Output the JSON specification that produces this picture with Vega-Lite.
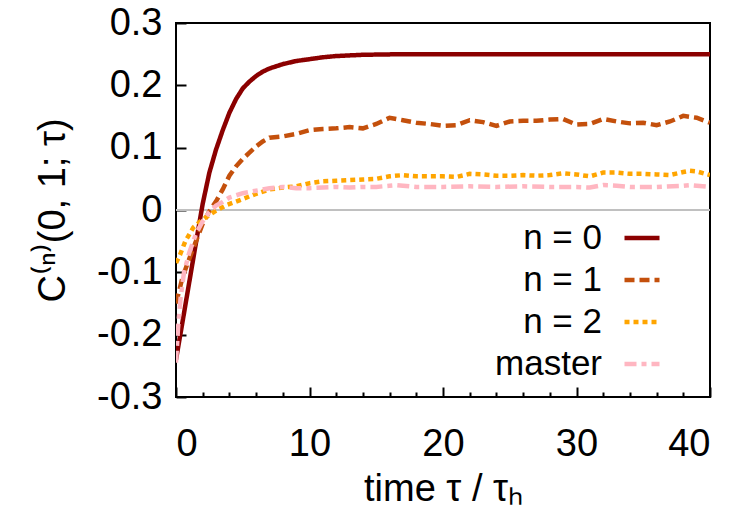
{
  "$schema": "https://vega.github.io/schema/vega-lite/v6.json",
  "width": 534,
  "height": 374,
  "autosize": {"type": "none"},
  "padding": {"left": 176, "top": 23, "right": 30, "bottom": 119},
  "config": {
    "view": {"stroke": "black", "strokeWidth": 2},
    "font": "Liberation Sans",
    "legend": {"labelFontSize": 35, "labelColor": "black"}
  },
  "data": {"values": [
    {"s": "n = 0", "t": 0, "v": -0.24}, {"s": "n = 0", "t": 0.5, "v": -0.178}, {"s": "n = 0", "t": 1, "v": -0.115}, {"s": "n = 0", "t": 1.5, "v": -0.052}, {"s": "n = 0", "t": 2, "v": 0.01}, {"s": "n = 0", "t": 2.5, "v": 0.06}, {"s": "n = 0", "t": 3, "v": 0.097}, {"s": "n = 0", "t": 3.5, "v": 0.128}, {"s": "n = 0", "t": 4, "v": 0.156}, {"s": "n = 0", "t": 4.5, "v": 0.178}, {"s": "n = 0", "t": 5, "v": 0.195}, {"s": "n = 0", "t": 5.5, "v": 0.206}, {"s": "n = 0", "t": 6, "v": 0.215}, {"s": "n = 0", "t": 6.5, "v": 0.222}, {"s": "n = 0", "t": 7, "v": 0.227}, {"s": "n = 0", "t": 8, "v": 0.234}, {"s": "n = 0", "t": 9, "v": 0.239}, {"s": "n = 0", "t": 10, "v": 0.242}, {"s": "n = 0", "t": 11, "v": 0.245}, {"s": "n = 0", "t": 12, "v": 0.247}, {"s": "n = 0", "t": 14, "v": 0.249}, {"s": "n = 0", "t": 17, "v": 0.25}, {"s": "n = 0", "t": 25, "v": 0.25}, {"s": "n = 0", "t": 32, "v": 0.25}, {"s": "n = 0", "t": 40, "v": 0.25},

    {"s": "n = 1", "t": 0, "v": -0.15}, {"s": "n = 1", "t": 0.5, "v": -0.107}, {"s": "n = 1", "t": 1, "v": -0.078}, {"s": "n = 1", "t": 1.5, "v": -0.05}, {"s": "n = 1", "t": 2, "v": -0.022}, {"s": "n = 1", "t": 2.5, "v": -0.002}, {"s": "n = 1", "t": 3, "v": 0.014}, {"s": "n = 1", "t": 3.5, "v": 0.033}, {"s": "n = 1", "t": 4, "v": 0.055}, {"s": "n = 1", "t": 4.5, "v": 0.07}, {"s": "n = 1", "t": 5, "v": 0.082}, {"s": "n = 1", "t": 5.5, "v": 0.092}, {"s": "n = 1", "t": 6, "v": 0.102}, {"s": "n = 1", "t": 6.5, "v": 0.11}, {"s": "n = 1", "t": 7, "v": 0.116}, {"s": "n = 1", "t": 8, "v": 0.118}, {"s": "n = 1", "t": 9, "v": 0.122}, {"s": "n = 1", "t": 10, "v": 0.128}, {"s": "n = 1", "t": 11, "v": 0.13}, {"s": "n = 1", "t": 12, "v": 0.131}, {"s": "n = 1", "t": 13, "v": 0.133}, {"s": "n = 1", "t": 14, "v": 0.131}, {"s": "n = 1", "t": 15, "v": 0.138}, {"s": "n = 1", "t": 16, "v": 0.148}, {"s": "n = 1", "t": 17, "v": 0.144}, {"s": "n = 1", "t": 18, "v": 0.14}, {"s": "n = 1", "t": 19, "v": 0.138}, {"s": "n = 1", "t": 20, "v": 0.135}, {"s": "n = 1", "t": 21, "v": 0.136}, {"s": "n = 1", "t": 22, "v": 0.144}, {"s": "n = 1", "t": 23, "v": 0.141}, {"s": "n = 1", "t": 24, "v": 0.135}, {"s": "n = 1", "t": 25, "v": 0.142}, {"s": "n = 1", "t": 26, "v": 0.143}, {"s": "n = 1", "t": 27, "v": 0.143}, {"s": "n = 1", "t": 28, "v": 0.145}, {"s": "n = 1", "t": 29, "v": 0.146}, {"s": "n = 1", "t": 30, "v": 0.137}, {"s": "n = 1", "t": 31, "v": 0.138}, {"s": "n = 1", "t": 32, "v": 0.146}, {"s": "n = 1", "t": 33, "v": 0.142}, {"s": "n = 1", "t": 34, "v": 0.139}, {"s": "n = 1", "t": 35, "v": 0.14}, {"s": "n = 1", "t": 36, "v": 0.136}, {"s": "n = 1", "t": 37, "v": 0.142}, {"s": "n = 1", "t": 38, "v": 0.151}, {"s": "n = 1", "t": 39, "v": 0.148}, {"s": "n = 1", "t": 40, "v": 0.14},

    {"s": "n = 2", "t": 0, "v": -0.085}, {"s": "n = 2", "t": 0.3, "v": -0.072}, {"s": "n = 2", "t": 0.7, "v": -0.05}, {"s": "n = 2", "t": 1.3, "v": -0.028}, {"s": "n = 2", "t": 2, "v": -0.015}, {"s": "n = 2", "t": 2.5, "v": -0.008}, {"s": "n = 2", "t": 3, "v": -0.001}, {"s": "n = 2", "t": 3.8, "v": 0.008}, {"s": "n = 2", "t": 4.8, "v": 0.016}, {"s": "n = 2", "t": 6, "v": 0.026}, {"s": "n = 2", "t": 7, "v": 0.033}, {"s": "n = 2", "t": 8, "v": 0.036}, {"s": "n = 2", "t": 9, "v": 0.038}, {"s": "n = 2", "t": 10, "v": 0.043}, {"s": "n = 2", "t": 11, "v": 0.046}, {"s": "n = 2", "t": 12, "v": 0.047}, {"s": "n = 2", "t": 13, "v": 0.048}, {"s": "n = 2", "t": 14, "v": 0.049}, {"s": "n = 2", "t": 15, "v": 0.05}, {"s": "n = 2", "t": 16, "v": 0.054}, {"s": "n = 2", "t": 17, "v": 0.056}, {"s": "n = 2", "t": 18, "v": 0.054}, {"s": "n = 2", "t": 19, "v": 0.054}, {"s": "n = 2", "t": 20, "v": 0.054}, {"s": "n = 2", "t": 21, "v": 0.053}, {"s": "n = 2", "t": 22, "v": 0.058}, {"s": "n = 2", "t": 23, "v": 0.057}, {"s": "n = 2", "t": 24, "v": 0.055}, {"s": "n = 2", "t": 25, "v": 0.055}, {"s": "n = 2", "t": 26, "v": 0.056}, {"s": "n = 2", "t": 27, "v": 0.055}, {"s": "n = 2", "t": 28, "v": 0.056}, {"s": "n = 2", "t": 29, "v": 0.059}, {"s": "n = 2", "t": 30, "v": 0.057}, {"s": "n = 2", "t": 31, "v": 0.054}, {"s": "n = 2", "t": 32, "v": 0.06}, {"s": "n = 2", "t": 33, "v": 0.06}, {"s": "n = 2", "t": 34, "v": 0.058}, {"s": "n = 2", "t": 35, "v": 0.058}, {"s": "n = 2", "t": 36, "v": 0.057}, {"s": "n = 2", "t": 37, "v": 0.056}, {"s": "n = 2", "t": 38, "v": 0.061}, {"s": "n = 2", "t": 38.5, "v": 0.063}, {"s": "n = 2", "t": 39, "v": 0.062}, {"s": "n = 2", "t": 40, "v": 0.056},

    {"s": "master", "t": 0, "v": -0.245}, {"s": "master", "t": 0.15, "v": -0.19}, {"s": "master", "t": 0.35, "v": -0.14}, {"s": "master", "t": 0.6, "v": -0.1}, {"s": "master", "t": 1, "v": -0.068}, {"s": "master", "t": 1.5, "v": -0.038}, {"s": "master", "t": 2, "v": -0.018}, {"s": "master", "t": 2.5, "v": -0.003}, {"s": "master", "t": 3, "v": 0.007}, {"s": "master", "t": 3.5, "v": 0.013}, {"s": "master", "t": 4, "v": 0.02}, {"s": "master", "t": 5, "v": 0.027}, {"s": "master", "t": 6, "v": 0.031}, {"s": "master", "t": 7, "v": 0.035}, {"s": "master", "t": 8, "v": 0.037}, {"s": "master", "t": 9, "v": 0.035}, {"s": "master", "t": 10, "v": 0.035}, {"s": "master", "t": 11, "v": 0.036}, {"s": "master", "t": 12, "v": 0.037}, {"s": "master", "t": 13, "v": 0.036}, {"s": "master", "t": 14, "v": 0.037}, {"s": "master", "t": 15, "v": 0.037}, {"s": "master", "t": 16, "v": 0.039}, {"s": "master", "t": 16.5, "v": 0.04}, {"s": "master", "t": 17, "v": 0.039}, {"s": "master", "t": 18, "v": 0.037}, {"s": "master", "t": 20, "v": 0.037}, {"s": "master", "t": 22, "v": 0.038}, {"s": "master", "t": 24, "v": 0.037}, {"s": "master", "t": 26, "v": 0.038}, {"s": "master", "t": 28, "v": 0.037}, {"s": "master", "t": 30, "v": 0.037}, {"s": "master", "t": 31, "v": 0.036}, {"s": "master", "t": 32, "v": 0.04}, {"s": "master", "t": 33, "v": 0.039}, {"s": "master", "t": 34, "v": 0.037}, {"s": "master", "t": 36, "v": 0.037}, {"s": "master", "t": 38, "v": 0.039}, {"s": "master", "t": 38.5, "v": 0.04}, {"s": "master", "t": 39, "v": 0.039}, {"s": "master", "t": 40, "v": 0.037}
  ]},
  "layer": [
    {
      "mark": {"type": "rule", "color": "#c0c0c0", "strokeWidth": 2},
      "encoding": {
        "y": {"datum": 0, "type": "quantitative", "scale": {"domain": [-0.3, 0.3], "nice": false},
              "axis": {"orient": "left", "values": [-0.3, -0.2, -0.1, 0, 0.1, 0.2, 0.3], "grid": false, "domain": false, "offset": -10, "tickSize": 10, "tickColor": "black", "tickWidth": 2,
                       "labelExpr": "datum.value == 0 ? '0' : (datum.value < 0 ? '-' + format(-datum.value, '.1f') : format(datum.value, '.1f'))", "labelFontSize": 38, "labelColor": "black", "labelPadding": 14,
                       "title": "C⁽ⁿ⁾(0, 1; τ)", "titleFontSize": 38, "titleFontWeight": "normal", "titleColor": "black", "titleX": -122, "titleY": 187, "titleAngle": -90, "titleBaseline": "alphabetic", "titleAlign": "center"}}
      }
    },
    {
      "mark": {"type": "line", "strokeWidth": 4.5, "clip": true},
      "encoding": {
        "x": {"field": "t", "type": "quantitative", "scale": {"domain": [0, 40], "nice": false},
              "axis": {"orient": "bottom", "values": [0, 2, 4, 6, 8, 10, 12, 14, 16, 18, 20, 22, 24, 26, 28, 30, 32, 34, 36, 38, 40], "grid": false, "domain": false, "offset": -10, "tickSize": 10, "tickColor": "black", "tickWidth": 2,
                       "tickDash": {"condition": {"test": "datum.value % 10 === 0", "value": [10, 0]}, "value": [0, 5, 10, 0]},
                       "labelExpr": "datum.value % 10 === 0 ? datum.label : ''", "labelFontSize": 38, "labelColor": "black", "labelPadding": 28, "labelDx": 3,
                       "title": "time τ / τₕ", "titleFontSize": 38, "titleFontWeight": "normal", "titleColor": "black", "titleY": 113, "titleBaseline": "alphabetic"}},
        "y": {"field": "v", "type": "quantitative", "scale": {"domain": [-0.3, 0.3], "nice": false},
              "axis": {"orient": "left", "values": [-0.3, -0.2, -0.1, 0, 0.1, 0.2, 0.3], "grid": false, "domain": false, "offset": -10, "tickSize": 10, "tickColor": "black", "tickWidth": 2,
                       "labelExpr": "datum.value == 0 ? '0' : (datum.value < 0 ? '-' + format(-datum.value, '.1f') : format(datum.value, '.1f'))", "labelFontSize": 38, "labelColor": "black", "labelPadding": 14,
                       "title": "C⁽ⁿ⁾(0, 1; τ)", "titleFontSize": 38, "titleFontWeight": "normal", "titleColor": "black", "titleX": -122, "titleY": 187, "titleAngle": -90, "titleBaseline": "alphabetic", "titleAlign": "center"}},
        "color": {"field": "s", "type": "nominal", "sort": ["n = 0", "n = 1", "n = 2", "master"],
                  "scale": {"domain": ["n = 0", "n = 1", "n = 2", "master"], "range": ["#8b0000", "#c4500c", "#ffa500", "#ffb6c1"]},
                  "legend": {"title": null, "orient": "none", "legendX": 446, "legendY": 195, "symbolType": "stroke", "symbolSize": 1225, "symbolStrokeWidth": 4.5, "labelAlign": "right", "labelOffset": -60, "rowPadding": 4}},
        "strokeDash": {"field": "s", "type": "nominal", "sort": ["n = 0", "n = 1", "n = 2", "master"],
                  "scale": {"domain": ["n = 0", "n = 1", "n = 2", "master"], "range": [[1, 0], [10, 5], [5, 4], [12, 5, 5, 5]]},
                  "legend": {"title": null, "orient": "none", "legendX": 446, "legendY": 195, "symbolType": "stroke", "symbolSize": 1225, "symbolStrokeWidth": 4.5, "labelAlign": "right", "labelOffset": -60, "rowPadding": 4}}
      }
    }
  ]
}
